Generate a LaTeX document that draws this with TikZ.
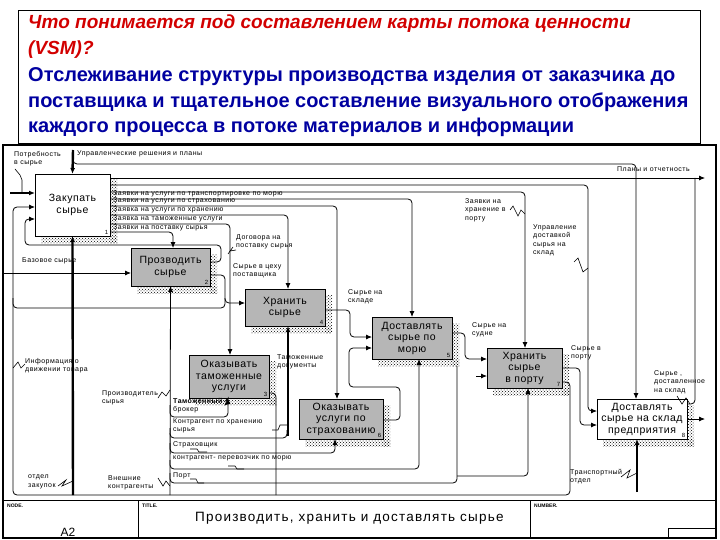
\documentclass[tikz,border=0pt]{standalone}
\usepackage{fontspec}
\setmainfont{Liberation Sans}
\newfontfamily\boxfont[LetterSpace=5]{Liberation Sans}
\newfontfamily\titlefont[LetterSpace=9]{Liberation Sans}
\newfontfamily\lblfont[LetterSpace=7]{Liberation Sans}
\usetikzlibrary{calc,patterns,arrows.meta}
\definecolor{hdred}{RGB}{210,0,0}
\definecolor{hdblue}{RGB}{0,0,160}
\definecolor{boxgray}{RGB}{182,182,182}
\tikzset{
  act/.style={draw,line width=0.9pt,inner sep=0pt,outer sep=0pt,align=center,
    font=\boxfont\fontsize{10.5}{11.5}\selectfont},
  actg/.style={act,fill=boxgray},
  actw/.style={act,fill=white},
  num/.style={anchor=south east,inner sep=1.5pt,font=\fontsize{6}{6}\selectfont},
  lbl/.style={anchor=north west,inner sep=0pt,align=left,font=\lblfont\fontsize{7}{8.5}\selectfont},
  hd/.style={anchor=base west,inner sep=0pt,font=\fontsize{20}{26}\bfseries\selectfont},
  hdr/.style={hd,text=hdred,font=\fontsize{19}{26}\bfseries\itshape\selectfont},
  arr/.style={-{Latex[length=6pt,width=5pt]}},
  ln/.style={line width=0.8pt,rounded corners=4pt},
  thk/.style={line width=2.4pt},
  zz/.style={line width=0.6pt},
}
\newcommand\hatchbox[1]{%
  \fill[pattern=crosshatch dots] ($(#1.north east)+(0,6)$) rectangle ($(#1.south east)+(7,7)$);
  \fill[pattern=crosshatch dots] ($(#1.south west)+(6,0)$) rectangle ($(#1.south east)+(7,7)$);}
\begin{document}
\begin{tikzpicture}[x=1pt,y=-1pt]
\useasboundingbox (0,0) rectangle (720,540);
% header
\draw[line width=0.8pt] (18,10) rectangle (700,143);
\node[hdr] (h1) at (28,29) {Что понимается под составлением карты потока ценности};
\node[hdr] (h2) at (28,55) {(VSM)?};
\node[hd,text=hdblue] (h3) at (28,82) {Отслеживание структуры производства изделия от заказчика до};
\node[hd,text=hdblue] (h4) at (28,108) {поставщика и тщательное составление визуального отображения};
\node[hd,text=hdblue] (h5) at (28,133) {каждого процесса в потоке материалов и информации};
% frame and title block
\draw[line width=1.8pt] (3,145) rectangle (716,538);
\draw[line width=1pt] (3,500) -- (716,500) (138,500) -- (138,538) (530,500) -- (530,538);
\draw[line width=0.8pt] (668,528) rectangle (716,538);
\node[anchor=north west,inner sep=0pt,font=\fontsize{5}{5}\bfseries\selectfont] (tnode) at (7,504) {NODE.};
\node[anchor=north west,inner sep=0pt,font=\fontsize{5}{5}\bfseries\selectfont] (ttitle) at (142,504) {TITLE.};
\node[anchor=north west,inner sep=0pt,font=\fontsize{5}{5}\bfseries\selectfont] (tnum) at (534,504) {NUMBER.};
\node[anchor=base,inner sep=0pt,font=\fontsize{12}{12}\selectfont] (tA) at (68,536) {A2};
\node[anchor=base west,inner sep=0pt,font=\titlefont\fontsize{13.5}{13.5}\selectfont] (tname) at (195,521) {Производить, хранить и доставлять сырье};
% activity boxes
\node[actw,minimum width=75,minimum height=62] (b1) at (72.5,205) {Закупать\\сырье};
\node[actg,minimum width=79,minimum height=38] (b2) at (170.5,267) {Прозводить\\сырье};
\node[actg,minimum width=80,minimum height=43] (b3) at (229,376.5) {Оказывать\\таможенные\\услуги};
\node[actg,minimum width=80,minimum height=37] (b4) at (285,307.5) {Хранить\\сырье};
\node[actg,minimum width=80,minimum height=42] (b5) at (412,338) {Доставлять\\сырье по\\морю};
\node[actg,minimum width=84,minimum height=40] (b6) at (341,419) {Оказывать\\услуги по\\страхованию};
\node[actg,minimum width=75,minimum height=40] (b7) at (524.5,368) {Хранить\\сырье\\в порту};
\node[actw,minimum width=90,minimum height=40] (b8) at (642,419) {Доставлять\\сырье на склад\\предприятия};
\foreach \b/\n in {b1/1,b2/2,b3/3,b4/4,b5/5,b6/6,b7/7,b8/8}{
  \hatchbox{\b}
  \node[num] (n\n) at (\b.south east) {\n};
}
% controls from above
\draw[thk,arr] (73,150) -- (b1.north);
\draw[ln,arr] (73,156) |- (636,164) -- (b8.north -| 636,0);
% outputs of b1
\draw[ln,arr] (b1.east |- 0,178) -- (705,178);
\draw[ln,arr] (b1.east |- 0,185) -| (588,411) -- (b8.west |- 0,411);
\draw[ln,arr] (b1.east |- 0,192) -| (b7.north -| 525,0);
\draw[ln,arr] (b1.east |- 0,199) -| (b5.north -| 412,0);
\draw[ln,arr] (b1.east |- 0,206) -| (b6.north -| 337,0);
\draw[ln,arr] (b1.east |- 0,215) -| (b4.north -| 288,0);
\draw[ln,arr] (b1.east |- 0,224) -| (b3.north -| 230,0);
\draw[ln,arr] (b1.east |- 0,232) -| (b2.north -| 173,0);
% inputs of b1
\draw[thk,arr] (10,193) -- (b1.west |- 0,193);
\draw[ln,arr] (b7.east |- 0,382) -| (570,495) -| (13,207) -- (b1.west |- 0,207);
\draw[ln,arr] (b2.east |- 0,262) -| (221,245) -| (25,219) -- (b1.west |- 0,219);
% b2 and b4
\draw[ln,arr] (4,273) -- (b2.west |- 0,273);
\draw[ln,arr] (b2.east |- 0,275) -| (225,303) -- (b4.west |- 0,303);
\draw[ln] (13,298) |- (225,308) -- (225,298);
\draw[ln,arr] (b4.east |- 0,310) -| (350,337) -- (b5.west |- 0,337);
% b3, b5, b6, b7, b8
\draw[ln] (b3.east |- 0,393) -| (276,495);
\draw[ln,arr] (b6.east |- 0,420) -| (400,387) -| (349,348) -- (b5.west |- 0,348);
\draw[ln,arr] (b5.east |- 0,333) -| (465,359) -- (b7.west |- 0,359);
\draw[ln,arr] (476,376) -- (b7.west |- 0,376);
\draw[ln,arr] (b7.east |- 0,368) -| (580,425) -- (b8.west |- 0,425);
\draw[ln,arr] (b8.east |- 0,419) -- (705,419);
\draw[ln] (b8.east |- 0,404) -| (695,178);
% mechanisms
\draw[thk,arr] (73,495) -- (b1.south);
\draw[ln,arr] (170,495) -- (b2.south);
\draw[ln,arr] (170,405) |- (228,417) -- (b3.south -| 228,0);
\draw[ln] (170,428) |- (287,438) -- (287,430);
\draw[thk,arr] (288,436) -- (b4.south -| 288,0);
\draw[ln,arr] (170,443) |- (335,453) -- (b6.south -| 335,0);
\draw[ln,arr] (170,460) |- (419,469) -- (b5.south -| 419,0);
\draw[ln] (170,473) |- (457,483) -- (457,366);
\draw[ln,arr] (457,476) -| (b7.south -| 528,0);
\draw[thk,arr] (637,492) -- (b8.south -| 637,0);
% labels
\node[lbl] (lpotr) at (14,151) {Потребность\\в сырье};
\node[lbl] (lupr) at (77,150) {Управленческие решения и планы};
\node[lbl] (lz1) at (113,190) {Заявки на услуги по транспортировке по морю};
\node[lbl] (lz2) at (113,197.5) {Заявки на услуги по страхованию};
\node[lbl] (lz3) at (113,206) {Заявка на услуги по хранению};
\node[lbl] (lz4) at (113,215.5) {Заявка на таможенные услуги};
\node[lbl] (lz5) at (113,224) {Заявки на поставку сырья};
\node[lbl,anchor=north east,align=right] (lplan) at (690,166) {Планы и отчетность};
\node[lbl] (lzport) at (465,198) {Заявки на\\хранение в\\порту};
\node[lbl] (lupd) at (533,224) {Управление\\доставкой\\сырья на\\склад};
\node[lbl] (ldog) at (236,234) {Договора на\\поставку сырья};
\node[lbl] (lbaz) at (22,257) {Базовое сырье};
\node[lbl] (lceh) at (233,263) {Сырье в цеху\\поставщика};
\node[lbl] (lskl) at (348,289) {Сырье на\\складе};
\node[lbl] (linf) at (25,358) {Информация о\\движении товара};
\node[lbl] (ltdoc) at (277,354) {Таможенные\\документы};
\node[lbl] (lsud) at (472,322) {Сырье на\\судне};
\node[lbl] (lvport) at (571,345) {Сырье в\\порту};
\node[lbl] (ldost) at (654,370) {Сырье ,\\доставленное\\на склад};
\node[lbl] (lproizv) at (102,390) {Производитель\\сырья};
\node[lbl] (lbrok) at (173,398) {\textbf{Таможенный}\\брокер};
\node[lbl] (lkhr) at (173,418) {Контрагент по хранению\\сырья};
\node[lbl] (lstr) at (173,441) {Страховщик};
\node[lbl] (lper) at (173,456) {контрагент- перевозчик по морю};
\node[lbl] (lport) at (173,472) {Порт};
\node[lbl] (lzak) at (28,475) {отдел\\закупок};
\node[lbl] (lvn) at (108,475) {Внешние\\контрагенты};
\node[lbl] (ltr) at (570,469) {Транспортный\\отдел};
% label leaders
\draw[zz] (15,169) -- (20,175) -- (22,180) -- (22,193);
\draw[zz] (510,210) -- (513,206) -- (518,216) -- (521,210) -- (525,214);
\draw[zz] (574,262) -- (578,258) -- (583,272) -- (588,268);
\draw[zz] (228,254) -- (233,247) -- (230,251) -- (236,250);
\draw[zz] (13,368) -- (18,362) -- (21,368) -- (25,364);
\draw[zz] (158,398) -- (162,392) -- (166,396) -- (170,390);
\draw[zz] (224,402) -- (228,398) -- (225,405) -- (230,403);
\draw[zz] (272,430) -- (278,430) -- (280,425) -- (287,425);
\draw[zz] (190,449) -- (197,449) -- (199,452) -- (207,452);
\draw[zz] (228,466) -- (235,466) -- (237,469) -- (244,469);
\draw[zz] (190,479) -- (196,479) -- (198,483) -- (204,483);
\draw[zz] (58,486) -- (66,480) -- (62,486) -- (73,481);
\draw[zz] (158,478) -- (163,486) -- (166,481) -- (170,486);
\draw[zz] (621,477) -- (630,470) -- (627,478) -- (637,473);
\draw[zz] (677,396) -- (682,404) -- (686,398) -- (690,404);
\end{tikzpicture}
\end{document}
